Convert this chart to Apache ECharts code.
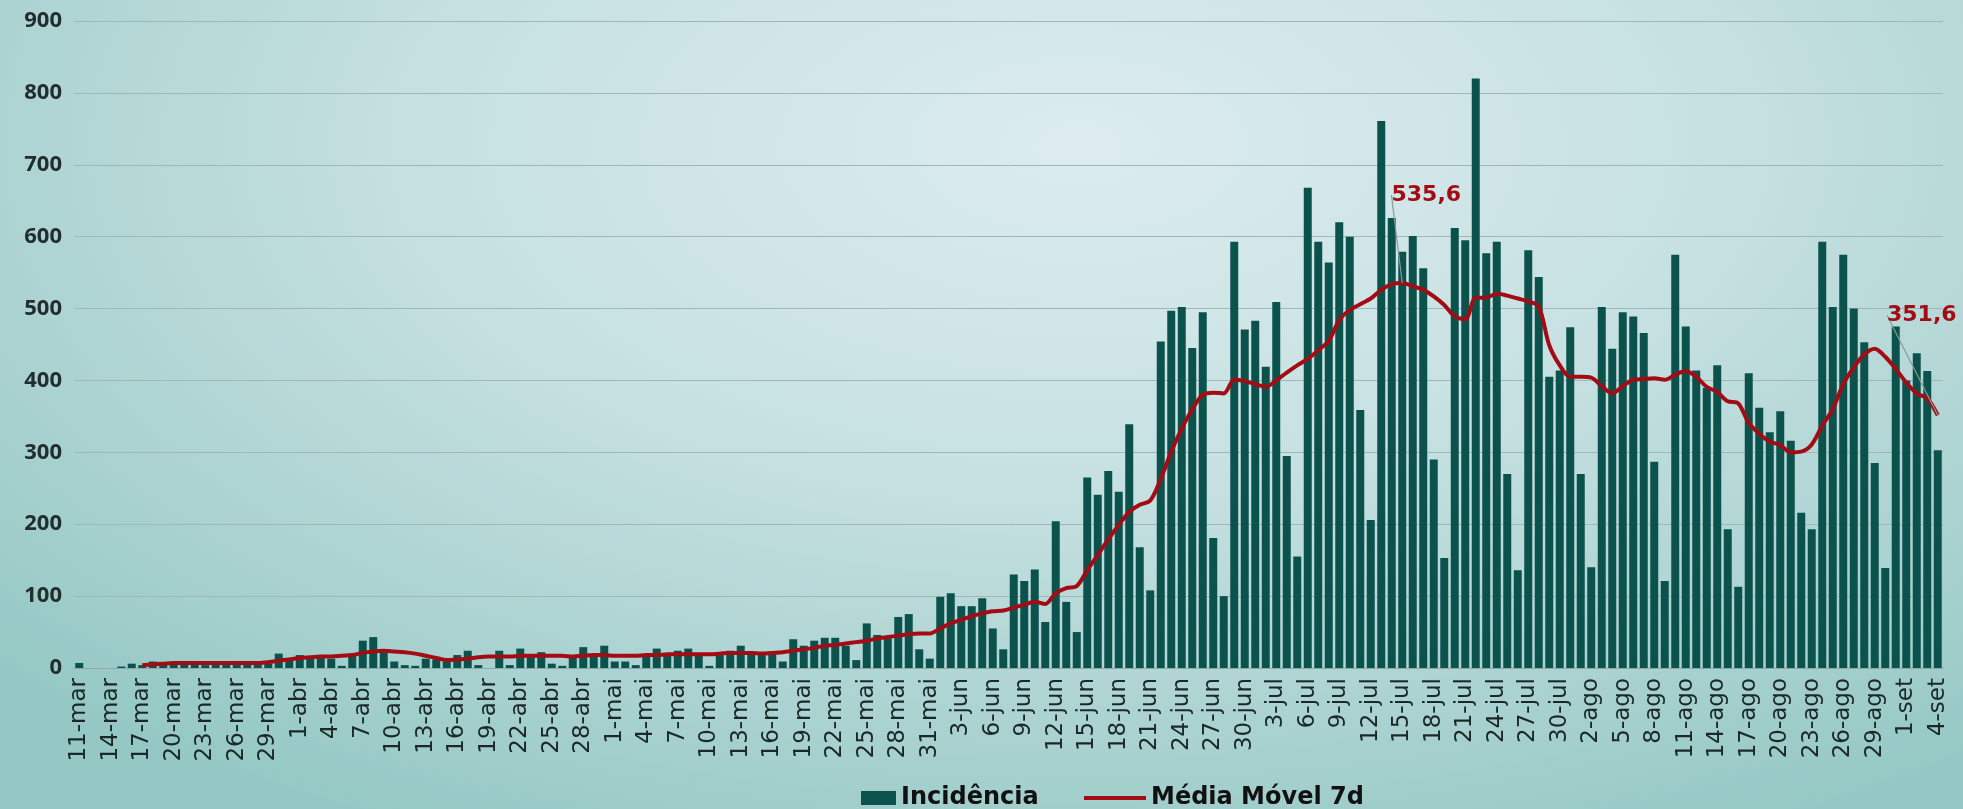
<!DOCTYPE html>
<html lang="pt">
<head>
<meta charset="UTF-8">
<title>Incidência e Média Móvel 7d</title>
<script src="https://cdn.jsdelivr.net/npm/echarts@6/dist/echarts.min.js"></script>
<style>
html, body { margin: 0; padding: 0; }
body {
    background: radial-gradient(ellipse 75% 95% at 55% 18%, #dcecee 0%, #c6e0e1 45%, #95c8c4 100%);
}
#main { width: 1963px; height: 809px; }
</style>
</head>
<body>
<div id="main"></div>
<script>
// meses do eixo (nome, primeiro dia, último dia)
var meses = [['mar', 11, 31], ['abr', 1, 30], ['mai', 1, 31], ['jun', 1, 30],
             ['jul', 1, 31], ['ago', 1, 31], ['set', 1, 4]];

var dias = [];
meses.forEach(function (m) {
    for (var d = m[1]; d <= m[2]; d++) dias.push(d + '-' + m[0]);
});

// casos diários (11-mar .. 4-set)
var incidencia = [
    7, 0, 0, 0, 2, 6, 4, 9, 5, 7, 5, 6, 4, 6, 5, 6, 5, 6, 6, 20,
    14, 18, 13, 16, 13, 3, 19, 38, 43, 22, 9, 4, 3, 13, 12, 9, 18, 24, 4, 0,
    24, 4, 27, 17, 22, 6, 3, 17, 29, 17, 31, 9, 9, 4, 18, 27, 19, 24, 27, 18,
    3, 18, 24, 31, 21, 20, 23, 9, 40, 31, 38, 42, 42, 31, 11, 62, 46, 43, 71, 75,
    26, 13, 99, 104, 86, 86, 97, 55, 26, 130, 121, 137, 64, 204, 92, 50, 265, 241, 274, 245,
    339, 168, 108, 454, 497, 502, 445, 495, 181, 100, 593, 471, 483, 419, 509, 295, 155, 668, 593, 564,
    620, 600, 359, 206, 761, 626, 579, 601, 556, 290, 153, 612, 595, 820, 577, 593, 270, 136, 581, 544,
    405, 414, 474, 270, 140, 502, 444, 495, 489, 466, 287, 121, 575, 475, 414, 390, 421, 193, 113, 410,
    362, 328, 357, 316, 216, 193, 593, 502, 575, 500, 453, 285, 139, 475, 400, 438, 413, 303
];

// média móvel de 7 dias
var mediaMovel = [
    null, null, null, null, null, null, 4, 5, 6, 7, 7, 7, 7, 7, 7, 7, 7, 7, 8, 10,
    12, 14, 15, 16, 16, 17, 18, 21, 23, 24, 23, 22, 20, 17, 14, 11, 12, 13, 15, 16,
    16, 16, 17, 17, 17, 17, 17, 16, 17, 18, 18, 17, 17, 17, 18, 18, 19, 19, 19, 19,
    19, 20, 21, 21, 21, 20, 21, 22, 24, 26, 28, 31, 32, 34, 36, 38, 41, 43, 45, 47,
    48, 48, 55, 62, 67, 72, 76, 79, 80, 84, 88, 92, 89, 104, 111, 114, 136, 157, 179, 199,
    217, 227, 233, 263, 301, 333, 360, 380, 383, 382, 401, 399, 395, 391, 400, 411, 421, 430, 442, 455,
    484, 498, 506, 514, 526, 534, 535.6, 531, 526, 517, 505, 489, 485, 515, 515, 521, 518, 514, 510, 503,
    449, 421, 405, 405, 404, 392, 382, 392, 401, 402, 403, 401, 408, 413, 405, 391, 384, 371, 368, 341,
    326, 315, 310, 300, 301, 311, 337, 360, 395, 418, 436, 444, 433, 416, 397, 382, 375, 351.6
];

// pontos anotados
var destaques = { 126: '535,6', 177: '351,6' };

var myChart = echarts.init(document.getElementById('main'));

var dadosMedia = mediaMovel.map(function (v, i) {
    if (destaques[i]) {
        return { value: v, label: { show: true, formatter: destaques[i] } };
    }
    return v;
});

var fonteLegenda = { fontSize: 24, fontWeight: 'bold', color: '#111', fontFamily: 'DejaVu Sans' };

myChart.setOption({
    animation: false,
    backgroundColor: 'transparent',
    grid: { left: 74, right: 20, top: 21, bottom: 141 },
    legend: [{
        data: ['Incidência'],
        left: 856, top: 781,
        icon: 'rect', itemWidth: 35, itemHeight: 14, itemGap: 4,
        textStyle: fonteLegenda
    }, {
        data: ['Média Móvel 7d'],
        left: 1079, top: 781,
        icon: 'rect', itemWidth: 62, itemHeight: 4,
        textStyle: fonteLegenda
    }],
    xAxis: {
        type: 'category',
        data: dias,
        axisLine: { lineStyle: { color: '#8fa9a9' } },
        axisTick: { interval: 2, length: 6, lineStyle: { color: '#8fa9a9' } },
        axisLabel: {
            interval: 2, rotate: 90, margin: 10,
            fontSize: 23, color: '#1a2828', fontFamily: 'DejaVu Sans'
        }
    },
    yAxis: {
        type: 'value',
        min: 0, max: 900, interval: 100,
        axisLabel: {
            margin: 12, fontSize: 22, fontWeight: 'bold',
            color: '#222d2d', fontFamily: 'Open Sans'
        },
        splitLine: { lineStyle: { color: '#9fb7b7', width: 1 } }
    },
    series: [{
        name: 'Incidência',
        type: 'bar',
        data: incidencia,
        barCategoryGap: '24%',
        itemStyle: { color: '#0b524d' }
    }, {
        name: 'Média Móvel 7d',
        type: 'line',
        data: dadosMedia,
        symbol: 'circle',
        symbolSize: 0,
        showAllSymbol: true,
        smooth: 0.3,
        z: 5,
        itemStyle: { color: '#a30c14' },
        lineStyle: { color: '#a30c14', width: 4 },
        label: {
            position: 'top',
            fontSize: 22, fontWeight: 'bold', color: '#a30c14', fontFamily: 'DejaVu Sans'
        },
        labelLine: { show: true, lineStyle: { color: '#8a9999', width: 1.2 } },
        labelLayout: function (p) {
            if (p.dataIndex === 126) return { dx: 24, dy: -72 };
            if (p.dataIndex === 177) return { dx: -16, dy: -84 };
            return {};
        }
    }]
});
</script>
</body>
</html>
